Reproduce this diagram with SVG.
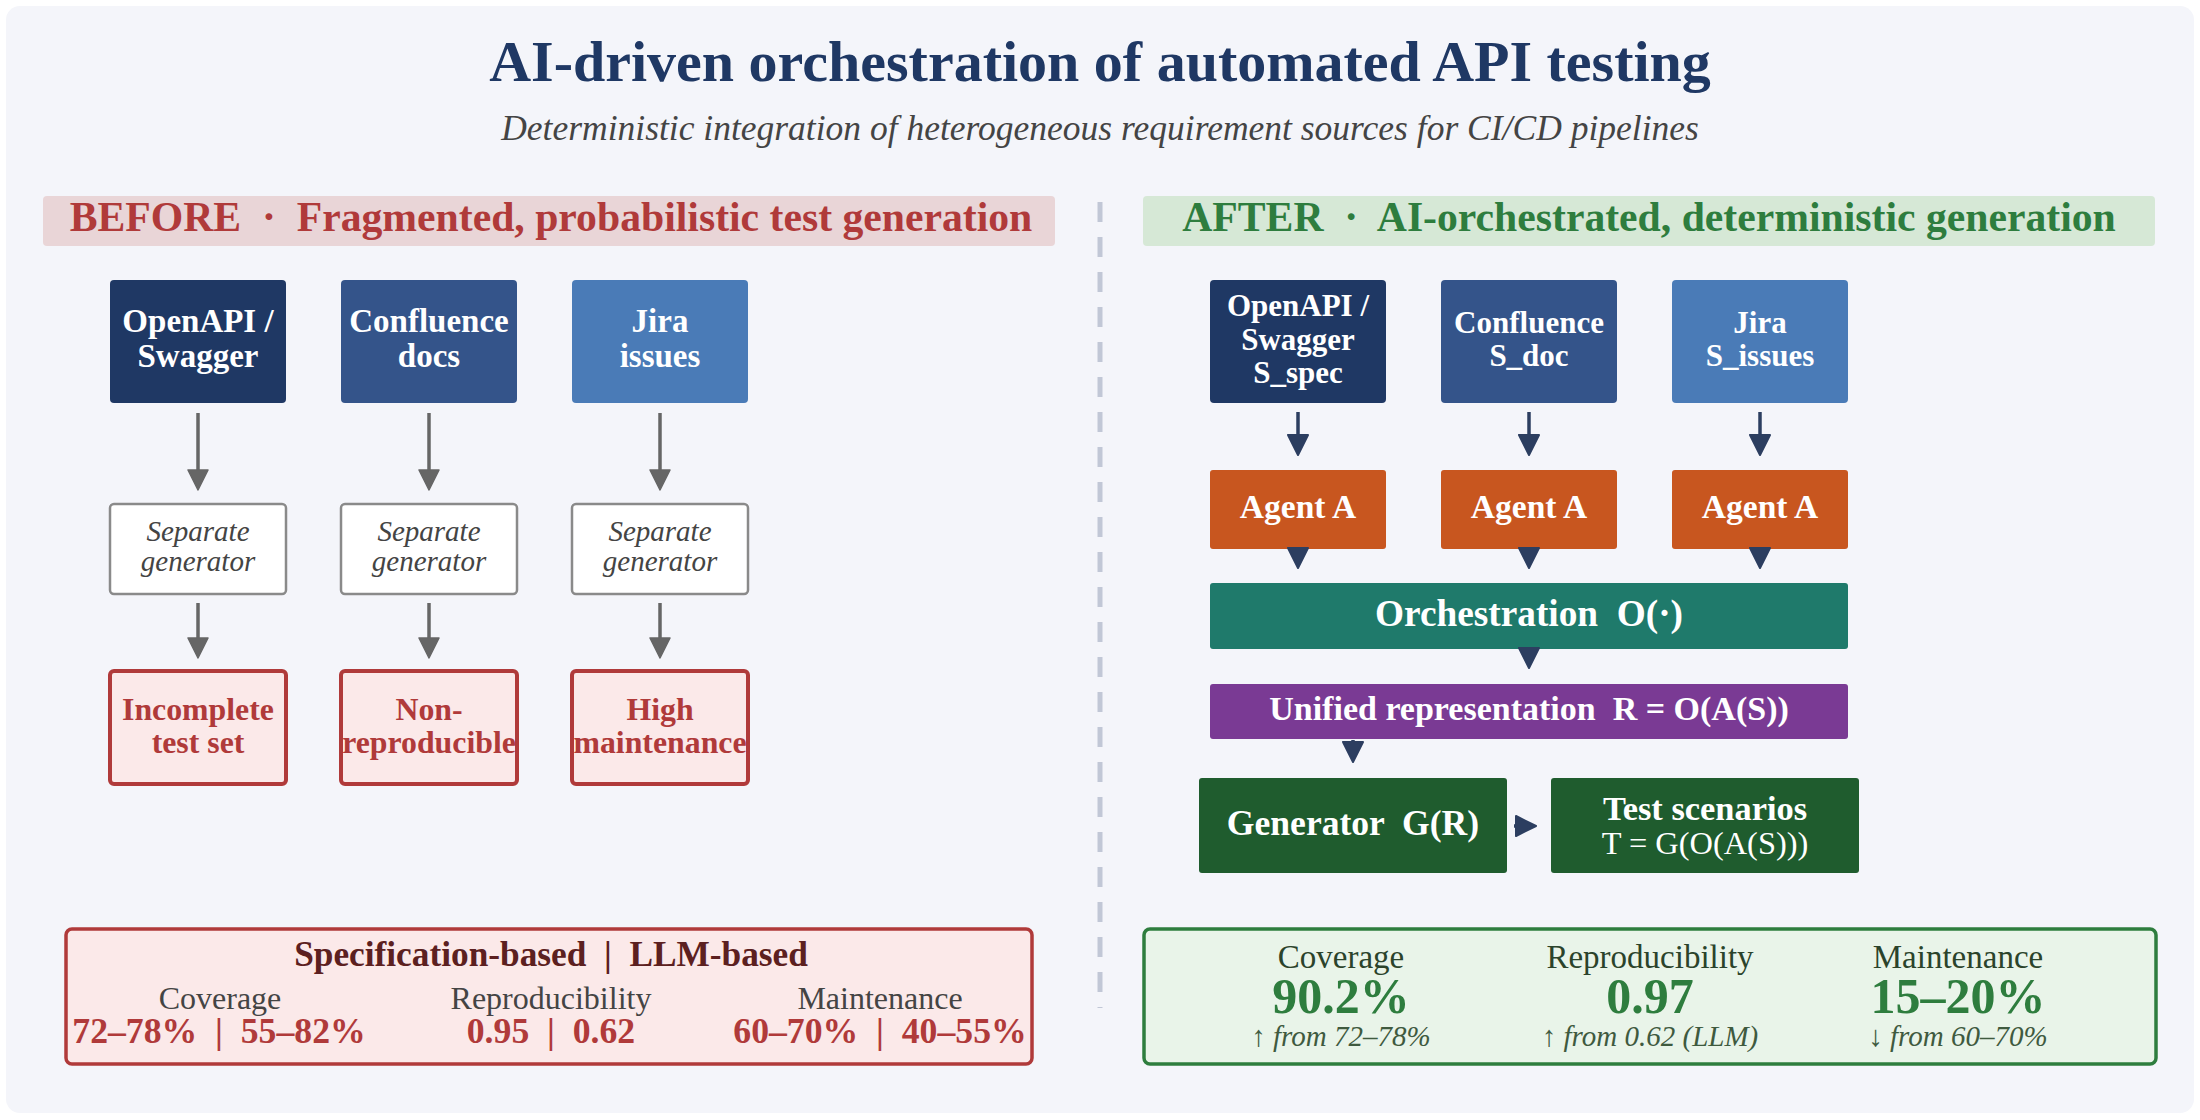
<svg xmlns="http://www.w3.org/2000/svg" width="2200" height="1120" viewBox="0 0 2200 1120">
<style>
text{font-family:"Liberation Serif","Times New Roman",serif;text-anchor:middle}
.b{font-weight:bold}
.i{font-style:italic}
.w{fill:#ffffff}
.src{font-size:33px;font-weight:bold;fill:#fff}
.src2{font-size:31px;font-weight:bold;fill:#fff}
.gen{font-size:29px;font-style:italic;fill:#444}
.out{font-size:31.8px;font-weight:bold;fill:#b03a3a}
.gline{stroke:#666;stroke-width:3.5;fill:none}
.nline{stroke:#2c3e60;stroke-width:3.5;fill:none}
.lab{font-size:32px;fill:#444}
.rlab{font-size:33px;fill:#2b432b}
.lval{font-size:35.7px;font-weight:bold;fill:#b03a3a}
.rval{font-size:50px;font-weight:bold;fill:#2e7d3e}
.rsub{font-size:29px;font-style:italic;fill:#3f5a3f}
</style>
<defs>
<marker id="ahG" markerUnits="userSpaceOnUse" markerWidth="30" markerHeight="30" refX="6" refY="10" orient="auto" overflow="visible">
<path d="M0,0 L20,10 L0,20 Z" fill="#666" stroke="#666" stroke-width="1.5" stroke-linejoin="round"/>
</marker>
<marker id="ahN" markerUnits="userSpaceOnUse" markerWidth="30" markerHeight="30" refX="6" refY="10" orient="auto" overflow="visible">
<path d="M0,0 L20,10 L0,20 Z" fill="#2c3e60" stroke="#2c3e60" stroke-width="2" stroke-linejoin="round"/>
</marker>
</defs>
<rect x="0" y="0" width="2200" height="1120" fill="#ffffff"/>
<rect x="6" y="6" width="2188" height="1107" rx="14" fill="#f4f5fa"/>

<text x="1100" y="81" class="b" font-size="58" fill="#1f3864">AI-driven orchestration of automated API testing</text>
<text x="1100" y="140" class="i" font-size="35.5" fill="#444">Deterministic integration of heterogeneous requirement sources for CI/CD pipelines</text>

<line x1="1100" y1="202" x2="1100" y2="1008" stroke="#c1c7d6" stroke-width="5" stroke-dasharray="20 15"/>

<g id="before-header">
<rect x="43" y="196" width="1012" height="50" rx="4" fill="#e9d5d7"/>
<text x="551" y="231" class="b" font-size="41.7" fill="#b03a3a" xml:space="preserve">BEFORE  ·  Fragmented, probabilistic test generation</text>
</g>
<g id="after-header">
<rect x="1143" y="196" width="1012" height="50" rx="4" fill="#d6e8d6"/>
<text x="1649" y="231" class="b" font-size="41.7" fill="#2e7d3e" xml:space="preserve">AFTER  ·  AI-orchestrated, deterministic generation</text>
</g>

<g id="b-openapi"><rect x="110" y="280" width="176" height="123" rx="4" fill="#1f3864"/><text x="198" y="332" class="src">OpenAPI /</text><text x="198" y="367" class="src">Swagger</text></g>
<g id="b-confluence"><rect x="341" y="280" width="176" height="123" rx="4" fill="#34548a"/><text x="429" y="332" class="src">Confluence</text><text x="429" y="367" class="src">docs</text></g>
<g id="b-jira"><rect x="572" y="280" width="176" height="123" rx="4" fill="#4a7bb7"/><text x="660" y="332" class="src">Jira</text><text x="660" y="367" class="src">issues</text></g>

<g id="b-gen1"><rect x="110" y="504" width="176" height="90" rx="4" fill="#fff" stroke="#8a8a8a" stroke-width="2.5"/><text x="198" y="541" class="gen">Separate</text><text x="198" y="571" class="gen">generator</text></g>
<g id="b-gen2"><rect x="341" y="504" width="176" height="90" rx="4" fill="#fff" stroke="#8a8a8a" stroke-width="2.5"/><text x="429" y="541" class="gen">Separate</text><text x="429" y="571" class="gen">generator</text></g>
<g id="b-gen3"><rect x="572" y="504" width="176" height="90" rx="4" fill="#fff" stroke="#8a8a8a" stroke-width="2.5"/><text x="660" y="541" class="gen">Separate</text><text x="660" y="571" class="gen">generator</text></g>

<g id="b-out1"><rect x="110" y="671" width="176" height="113" rx="4" fill="#fbe9e9" stroke="#b03a3a" stroke-width="4"/><text x="198" y="720" class="out">Incomplete</text><text x="198" y="753" class="out">test set</text></g>
<g id="b-out2"><rect x="341" y="671" width="176" height="113" rx="4" fill="#fbe9e9" stroke="#b03a3a" stroke-width="4"/><text x="429" y="720" class="out">Non-</text><text x="429" y="753" class="out">reproducible</text></g>
<g id="b-out3"><rect x="572" y="671" width="176" height="113" rx="4" fill="#fbe9e9" stroke="#b03a3a" stroke-width="4"/><text x="660" y="720" class="out">High</text><text x="660" y="753" class="out">maintenance</text></g>

<g id="a-openapi"><rect x="1210" y="280" width="176" height="123" rx="4" fill="#1f3864"/><text x="1298" y="316" class="src2">OpenAPI /</text><text x="1298" y="350" class="src2">Swagger</text><text x="1298" y="383" class="src2">S_spec</text></g>
<g id="a-confluence"><rect x="1441" y="280" width="176" height="123" rx="4" fill="#34548a"/><text x="1529" y="333" class="src2">Confluence</text><text x="1529" y="366" class="src2">S_doc</text></g>
<g id="a-jira"><rect x="1672" y="280" width="176" height="123" rx="4" fill="#4a7bb7"/><text x="1760" y="333" class="src2">Jira</text><text x="1760" y="366" class="src2">S_issues</text></g>

<g id="agent1"><rect x="1210" y="470" width="176" height="79" rx="3" fill="#c8561f"/><text x="1298" y="518" class="b w" font-size="33.5">Agent A</text></g>
<g id="agent2"><rect x="1441" y="470" width="176" height="79" rx="3" fill="#c8561f"/><text x="1529" y="518" class="b w" font-size="33.5">Agent A</text></g>
<g id="agent3"><rect x="1672" y="470" width="176" height="79" rx="3" fill="#c8561f"/><text x="1760" y="518" class="b w" font-size="33.5">Agent A</text></g>

<g id="orchestration"><rect x="1210" y="583" width="638" height="66" rx="3" fill="#1f7a6b"/><text x="1529" y="626" class="b w" font-size="37.3" xml:space="preserve">Orchestration  O(·)</text></g>
<g id="unified"><rect x="1210" y="684" width="638" height="55" rx="3" fill="#7a3a94"/><text x="1529" y="720" class="b w" font-size="34" xml:space="preserve">Unified representation  R = O(A(S))</text></g>
<g id="generator"><rect x="1199" y="778" width="308" height="95" rx="3" fill="#1f5c2e"/><text x="1353" y="835" class="b w" font-size="35.6" xml:space="preserve">Generator  G(R)</text></g>
<g id="scenarios"><rect x="1551" y="778" width="308" height="95" rx="3" fill="#1f5c2e"/><text x="1705" y="820" class="b w" font-size="34.4">Test scenarios</text><text x="1705" y="854" class="w" font-size="32.4">T = G(O(A(S)))</text></g>

<g id="connectors">
<line class="gline" x1="198" y1="413" x2="198" y2="476" marker-end="url(#ahG)"/>
<line class="gline" x1="429" y1="413" x2="429" y2="476" marker-end="url(#ahG)"/>
<line class="gline" x1="660" y1="413" x2="660" y2="476" marker-end="url(#ahG)"/>
<line class="gline" x1="198" y1="603" x2="198" y2="644" marker-end="url(#ahG)"/>
<line class="gline" x1="429" y1="603" x2="429" y2="644" marker-end="url(#ahG)"/>
<line class="gline" x1="660" y1="603" x2="660" y2="644" marker-end="url(#ahG)"/>
<line class="nline" x1="1298" y1="412" x2="1298" y2="441" marker-end="url(#ahN)"/>
<line class="nline" x1="1529" y1="412" x2="1529" y2="441" marker-end="url(#ahN)"/>
<line class="nline" x1="1760" y1="412" x2="1760" y2="441" marker-end="url(#ahN)"/>
<line class="nline" x1="1298" y1="549" x2="1298" y2="554" marker-end="url(#ahN)"/>
<line class="nline" x1="1529" y1="549" x2="1529" y2="554" marker-end="url(#ahN)"/>
<line class="nline" x1="1760" y1="549" x2="1760" y2="554" marker-end="url(#ahN)"/>
<line class="nline" x1="1529" y1="649" x2="1529" y2="654" marker-end="url(#ahN)"/>
<line class="nline" x1="1353" y1="740" x2="1353" y2="748" marker-end="url(#ahN)"/>
<line class="nline" x1="1514" y1="826" x2="1522" y2="826" marker-end="url(#ahN)"/>
</g>

<g id="before-metrics">
<rect x="66" y="929" width="966" height="135" rx="6" fill="#fbe9e9" stroke="#b03a3a" stroke-width="3.5"/>
<text x="551" y="966" class="b" font-size="35.3" fill="#5c2020" xml:space="preserve">Specification-based  |  LLM-based</text>
<text x="220" y="1009" class="lab">Coverage</text>
<text x="551" y="1009" class="lab">Reproducibility</text>
<text x="880" y="1009" class="lab">Maintenance</text>
<text x="219" y="1043" class="lval" xml:space="preserve">72–78%  |  55–82%</text>
<text x="551" y="1043" class="lval" xml:space="preserve">0.95  |  0.62</text>
<text x="880" y="1043" class="lval" xml:space="preserve">60–70%  |  40–55%</text>
</g>

<g id="after-metrics">
<rect x="1144" y="929" width="1012" height="135" rx="6" fill="#e9f4e9" stroke="#2e7d3e" stroke-width="3.5"/>
<text x="1341" y="968" class="rlab">Coverage</text>
<text x="1650" y="968" class="rlab">Reproducibility</text>
<text x="1958" y="968" class="rlab">Maintenance</text>
<text x="1341" y="1013" class="rval">90.2%</text>
<text x="1650" y="1013" class="rval">0.97</text>
<text x="1958" y="1013" class="rval">15–20%</text>
<text x="1341" y="1046" class="rsub">↑ from 72–78%</text>
<text x="1650" y="1046" class="rsub">↑ from 0.62 (LLM)</text>
<text x="1958" y="1046" class="rsub">↓ from 60–70%</text>
</g>
</svg>
